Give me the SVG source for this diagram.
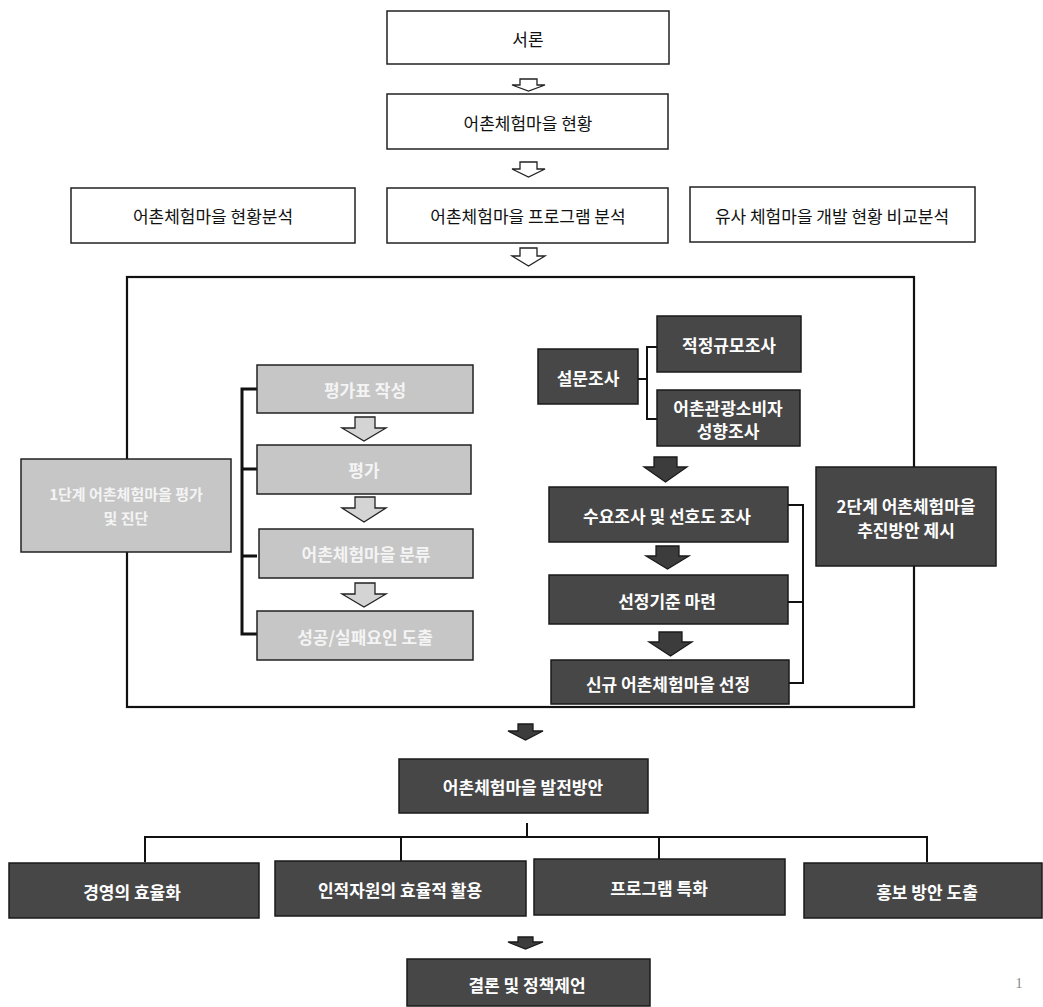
<svg xmlns="http://www.w3.org/2000/svg" width="1043" height="1007" viewBox="0 0 1043 1007">
<style>
text{font-family:"Noto Sans CJK KR","Noto Sans",sans-serif;font-size:17px;text-anchor:middle;dominant-baseline:central}
.w{fill:#fff;stroke:#222;stroke-width:1.5}
.lt{fill:#c6c6c6;stroke:#222;stroke-width:1.5}
.dk{fill:#474747;stroke:#1a1a1a;stroke-width:1.5}
.t{fill:#111}
.tw{fill:#fff;font-weight:bold}
.tl{fill:#f4f4f4;font-weight:bold}
.ln{fill:none;stroke:#111;stroke-width:2}
.ln3{fill:none;stroke:#111;stroke-width:3}
.ha{fill:#fff;stroke:#222;stroke-width:1.3}
.la{fill:#d4d4d4;stroke:#222;stroke-width:1.3}
.da{fill:#3c3c3c;stroke:#1a1a1a;stroke-width:1.3}
</style>
<rect width="1043" height="1007" fill="#fff"/>
<g id="frame"><rect x="127" y="277" width="787" height="430" fill="none" stroke="#111" stroke-width="2.2"/></g>
<g id="connectors">
<path class="ha" d="M520 79H537V85H545L528.5 91L512 85H520Z"/>
<path class="ha" d="M520 162H537V169H545L528.5 177L512 169H520Z"/>
<path class="ha" d="M520 248H537V256H545L528.5 266L512 256H520Z"/>
<path class="la" d="M355 417H375V428H386L364 441L342 428H355Z"/>
<path class="la" d="M355 497H375V508H386L364 522L342 508H355Z"/>
<path class="la" d="M355 583H375V594H386L364 607L342 594H355Z"/>
<path class="da" d="M654 457H677V467H687L665.5 482L644 467H654Z"/>
<path class="da" d="M656 546H679V556H689L667.5 569L646 556H656Z"/>
<path class="da" d="M659 632H682V642H692L670.5 656L649 642H659Z"/>
<path class="da" d="M518 724H533V731H543L525.5 740L508 731H518Z"/>
<path class="da" d="M518 937H533V942H543L525.5 949L508 942H518Z"/>
<path class="ln3" d="M257 389H242V634H257M242 469H257M242 556H257"/>
<path class="ln" d="M638 379H647M657 347H647V419H657"/>
<path class="ln" d="M788 505H803V683H788M803 602H788"/>
<path class="ln" d="M527 823V837M145 862V837H927V862M401 837V862M659 837V862"/>
</g>
<g id="n1"><rect class="w" x="387" y="11" width="282" height="53"/><text class="t" x="528" y="38">서론</text></g>
<g id="n2"><rect class="w" x="387" y="94" width="281" height="55"/><text class="t" x="528" y="122">어촌체험마을 현황</text></g>
<g id="n3"><rect class="w" x="71" y="188" width="284" height="55"/><text class="t" x="213" y="215">어촌체험마을 현황분석</text></g>
<g id="n4"><rect class="w" x="387" y="188" width="281" height="55"/><text class="t" x="528" y="215">어촌체험마을 프로그램 분석</text></g>
<g id="n5"><rect class="w" x="690" y="187" width="285" height="55"/><text class="t" x="832" y="215">유사 체험마을 개발 현황 비교분석</text></g>
<g id="n6"><rect class="lt" x="21" y="459" width="210" height="93"/><text class="tl" x="126" y="493" style="font-size:15px">1단계 어촌체험마을 평가</text><text class="tl" x="126" y="517" style="font-size:15px">및 진단</text></g>
<g id="n7"><rect class="lt" x="257" y="365" width="216" height="48"/><text class="tl" x="365" y="389">평가표 작성</text></g>
<g id="n8"><rect class="lt" x="257" y="445" width="214" height="49"/><text class="tl" x="364" y="469">평가</text></g>
<g id="n9"><rect class="lt" x="259" y="529" width="214" height="49"/><text class="tl" x="366" y="553">어촌체험마을 분류</text></g>
<g id="n10"><rect class="lt" x="257" y="611" width="216" height="49"/><text class="tl" x="365" y="636">성공/실패요인 도출</text></g>
<g id="n11"><rect class="dk" x="538" y="349" width="100" height="55"/><text class="tw" x="588" y="377">설문조사</text></g>
<g id="n12"><rect class="dk" x="657" y="316" width="144" height="56"/><text class="tw" x="729" y="344">적정규모조사</text></g>
<g id="n13"><rect class="dk" x="657" y="390" width="143" height="56"/><text class="tw" x="728" y="407">어촌관광소비자</text><text class="tw" x="728" y="430">성향조사</text></g>
<g id="n14"><rect class="dk" x="549" y="487" width="239" height="55"/><text class="tw" x="667" y="515">수요조사 및 선호도 조사</text></g>
<g id="n15"><rect class="dk" x="549" y="575" width="239" height="49"/><text class="tw" x="667" y="600">선정기준 마련</text></g>
<g id="n16"><rect class="dk" x="551" y="660" width="238" height="44"/><text class="tw" x="668" y="683">신규 어촌체험마을 선정</text></g>
<g id="n17"><rect class="dk" x="816" y="467" width="180" height="99"/><text class="tw" x="906" y="505">2단계 어촌체험마을</text><text class="tw" x="906" y="529">추진방안 제시</text></g>
<g id="n18"><rect class="dk" x="399" y="759" width="249" height="54"/><text class="tw" x="523" y="786">어촌체험마을 발전방안</text></g>
<g id="n19"><rect class="dk" x="9" y="863" width="250" height="55"/><text class="tw" x="132" y="891">경영의 효율화</text></g>
<g id="n20"><rect class="dk" x="275" y="861" width="251" height="55"/><text class="tw" x="400" y="889">인적자원의 효율적 활용</text></g>
<g id="n21"><rect class="dk" x="534" y="859" width="251" height="56"/><text class="tw" x="659" y="887">프로그램 특화</text></g>
<g id="n22"><rect class="dk" x="804" y="863" width="238" height="55"/><text class="tw" x="927" y="891">홍보 방안 도출</text></g>
<g id="n23"><rect class="dk" x="407" y="959" width="243" height="47"/><text class="tw" x="527" y="984">결론 및 정책제언</text></g>
<text x="1019" y="983" style="font-size:14px;fill:#888;font-family:'Liberation Serif',serif">1</text>
</svg>
